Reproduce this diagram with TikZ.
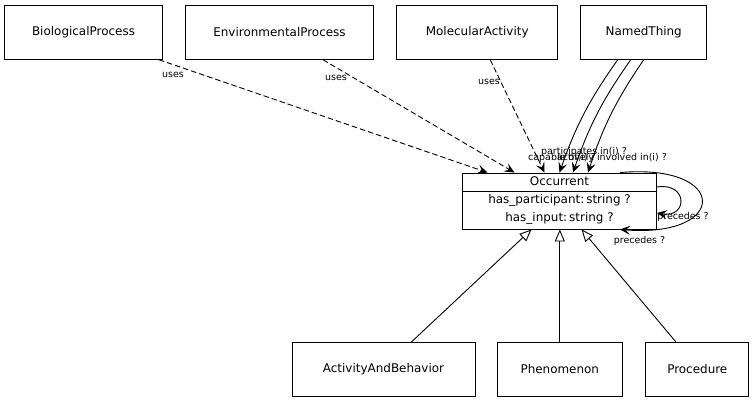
\documentclass[tikz,border=0pt]{standalone}
\usepackage{fontspec}
\setmainfont{DejaVu Sans}
\usetikzlibrary{arrows.meta}

\begin{document}
\begin{tikzpicture}[x=1bp, y=-1bp,
  cls/.style={draw, line width=0.9bp, minimum height=54bp, inner sep=0pt, font=\fontsize{12}{14}\selectfont},
  lbl/.style={inner sep=0pt, font=\fontsize{9.5}{11}\selectfont},
  txt/.style={inner sep=0pt, font=\fontsize{12}{14}\selectfont},
  uses/.style={dash pattern=on 5.5bp off 3bp, line width=0.9bp, -{Stealth[length=10bp, width=9bp, inset=4bp]}},
  slot/.style={line width=0.9bp, -{Stealth[length=10bp, width=9bp, inset=4bp]}},
  isa/.style={line width=0.9bp, -{Triangle[open, length=12bp, width=10bp]}}]

\useasboundingbox (0, 0) rectangle (754, 403);

% top row
\node[cls, minimum width=158bp] (biologicalprocess) at (83.5, 32.3) {BiologicalProcess};
\node[cls, minimum width=188bp] (environmentalprocess) at (279.5, 32.3) {EnvironmentalProcess};
\node[cls, minimum width=161bp] (molecularactivity) at (477.2, 32.3) {MolecularActivity};
\node[cls, minimum width=126bp] (namedthing) at (643.7, 32.3) {NamedThing};

% Occurrent class box
\node[draw, line width=0.9bp, minimum width=194bp, minimum height=56bp, inner sep=0pt] (occurrent) at (559.5, 201) {};
\draw[line width=0.9bp] (occurrent.west |- 0, 191.5) -- (occurrent.east |- 0, 191.5);
\node[txt] (occurrenttitle) at (559.5, 181.5) {Occurrent};
\node[txt] (hasparticipant) at (559.5, 200) {has\_participant:\,string ?};
\node[txt] (hasinput) at (559.5, 218.5) {has\_input:\,string ?};

% bottom row
\node[cls, minimum width=183bp] (activityandbehavior) at (383.5, 369.3) {ActivityAndBehavior};
\node[cls, minimum width=125bp] (phenomenon) at (559.8, 369.3) {Phenomenon};
\node[cls, minimum width=103bp] (procedure) at (697.3, 369.3) {Procedure};

% uses
\draw[uses] ([xshift=-4bp]biologicalprocess.south east) -- ([xshift=-72bp]occurrent.north);
\draw[uses] ([xshift=43.5bp]environmentalprocess.south) -- ([xshift=-45bp]occurrent.north);
\draw[uses] ([xshift=13bp]molecularactivity.south) -- ([xshift=-15bp]occurrent.north);
\node[lbl] (uses1) at (173, 75) {uses};
\node[lbl] (uses2) at (336, 77.5) {uses};
\node[lbl] (uses3) at (489, 81.5) {uses};

% NamedThing slots
\draw[slot] ([xshift=-26bp]namedthing.south) to[bend right=8] ([xshift=0bp]occurrent.north);
\draw[slot] ([xshift=-13bp]namedthing.south) to[bend right=8] ([xshift=13.5bp]occurrent.north);
\draw[slot] (namedthing.south) to[bend right=8] ([xshift=28.5bp]occurrent.north);
\node[lbl] (participatesin) at (584, 152) {participates in(i) ?};
\node[lbl, anchor=west] (capableof) at (528, 157.5) {capable of(i) ?};
\node[lbl, anchor=east] (activelyinvolvedin) at (667, 157.5) {actively involved in(i) ?};

% precedes loops
\draw[slot] ([xshift=60.5bp]occurrent.north) .. controls (729, 163) and (729, 238) .. ([xshift=60.5bp]occurrent.south);
\draw[slot] ([yshift=14bp]occurrent.east) .. controls (688, 182) and (688, 218) .. ([yshift=-12bp]occurrent.east);
\node[lbl] (precedes1) at (683, 216.5) {precedes ?};
\node[lbl] (precedes2) at (639.5, 240.5) {precedes ?};

% is_a
\draw[isa] ([xshift=28bp]activityandbehavior.north) -- ([xshift=-28bp]occurrent.south);
\draw[isa] (phenomenon.north) -- (phenomenon.north |- occurrent.south);
\draw[isa] ([xshift=-21.5bp]procedure.north) -- ([xshift=22bp]occurrent.south);

\end{tikzpicture}
\end{document}
